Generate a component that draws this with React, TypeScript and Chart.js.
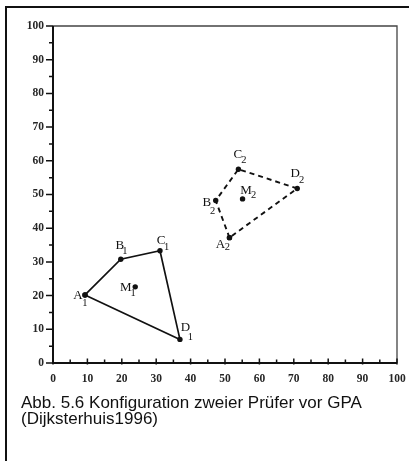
import React, { useEffect, useRef } from 'react';
import { Chart, registerables } from 'chart.js';

Chart.register(...registerables);

// ---- data ----
const cornerLetters = ['A', 'B', 'C', 'D'];
const panel1X = [9.3, 19.7, 31.1, 36.9];
const panel1Y = [20.2, 30.8, 33.3, 7.0];
const panel2X = [51.3, 47.3, 53.9, 71.0];
const panel2Y = [37.2, 48.2, 57.5, 51.8];
const centroidLetter = 'M';
const centroidX = [23.9, 55.1];
const centroidY = [22.6, 48.7];
const panelSubscripts = ['1', '2'];
const axisMin = 0;
const axisMax = 100;
const axisStep = 5;
const captionLines = [
  'Abb. 5.6 Konfiguration zweier Prüfer vor GPA',
  '(Dijksterhuis1996)',
];

// ---- label placement (style: px offsets from point: letter dx, dy, subscript dx, dy) ----
const cornerOffsets = [
  [
    [-7, 1, 0, 8],
    [-1, -14, 4, -7.5],
    [1, -10, 6.7, -4],
    [5.5, -12, 10.5, -2],
  ],
  [
    [-9, 6.5, -2, 10],
    [-9, 2, -3, 10.5],
    [-0.5, -15, 5.5, -9],
    [-2, -15, 4.5, -8.5],
  ],
];
const centroidOffsets = [
  [-9.5, 1, -2, 6],
  [3.5, -8.5, 11, -4],
];

const SERIF = "'Liberation Serif', 'DejaVu Serif', serif";

function closed(xs: number[], ys: number[]) {
  const pts = xs.map((x, i) => ({ x, y: ys[i] }));
  return [...pts, pts[0]];
}

const overlayPlugin = {
  id: 'overlay',
  afterDraw(chart: any) {
    const { ctx, chartArea: a, scales } = chart;
    const xs = scales.x;
    const ys = scales.y;
    ctx.save();
    // frame: top and right
    ctx.strokeStyle = '#444';
    ctx.lineWidth = 1.3;
    ctx.beginPath();
    ctx.moveTo(a.left, a.top);
    ctx.lineTo(a.right, a.top);
    ctx.lineTo(a.right, a.bottom);
    ctx.stroke();
    // axes
    ctx.strokeStyle = '#111';
    ctx.lineWidth = 2;
    ctx.beginPath();
    ctx.moveTo(a.left, a.top);
    ctx.lineTo(a.left, a.bottom);
    ctx.lineTo(a.right, a.bottom);
    ctx.stroke();
    // tick marks
    ctx.lineWidth = 1.5;
    ctx.beginPath();
    xs.ticks.forEach((t: any) => {
      const major = t.value % 10 === 0;
      const px = xs.getPixelForValue(t.value);
      ctx.moveTo(px, a.bottom + (major ? 1.5 : 0));
      ctx.lineTo(px, a.bottom - (major ? 4.5 : 3.5));
    });
    ys.ticks.forEach((t: any) => {
      const major = t.value % 10 === 0;
      const py = ys.getPixelForValue(t.value);
      ctx.moveTo(a.left, py);
      ctx.lineTo(a.left - (major ? 7 : 4), py);
    });
    ctx.stroke();

    // point labels
    ctx.fillStyle = '#111';
    ctx.textAlign = 'center';
    ctx.textBaseline = 'middle';
    const drawLabel = (vx: number, vy: number, letter: string, sub: string, off: number[]) => {
      const px = xs.getPixelForValue(vx);
      const py = ys.getPixelForValue(vy);
      ctx.font = `13px ${SERIF}`;
      ctx.fillText(letter, px + off[0], py + off[1]);
      ctx.font = `10.5px ${SERIF}`;
      ctx.fillText(sub, px + off[2], py + off[3]);
    };
    const panels = [
      [panel1X, panel1Y],
      [panel2X, panel2Y],
    ];
    panels.forEach(([px, py], p) => {
      cornerLetters.forEach((L, i) => {
        drawLabel(px[i], py[i], L, panelSubscripts[p], cornerOffsets[p][i]);
      });
      drawLabel(centroidX[p], centroidY[p], centroidLetter, panelSubscripts[p], centroidOffsets[p]);
    });
    ctx.restore();
  },
};

export default function App() {
  const ref = useRef<HTMLCanvasElement | null>(null);

  useEffect(() => {
    if (!ref.current) return;
    const tickFont = { family: SERIF, size: 11.5, weight: 'bold' as const };
    const chart = new Chart(ref.current, {
      type: 'scatter',
      data: {
        datasets: [
          {
            data: closed(panel1X, panel1Y),
            showLine: true,
            borderColor: '#111',
            borderWidth: 1.7,
            backgroundColor: '#111',
            pointRadius: 2.7,
            pointBorderWidth: 0,
          },
          {
            data: closed(panel2X, panel2Y),
            showLine: true,
            borderColor: '#111',
            borderWidth: 1.9,
            borderDash: [5, 4],
            backgroundColor: '#111',
            pointRadius: 2.7,
            pointBorderWidth: 0,
          },
          {
            data: centroidX.map((x, i) => ({ x, y: centroidY[i] })),
            showLine: false,
            backgroundColor: '#111',
            pointRadius: 2.7,
            pointBorderWidth: 0,
          },
        ],
      },
      options: {
        animation: false,
        responsive: false,
        events: [],
        layout: { padding: { left: 0, right: 12, top: 26, bottom: 0 } },
        plugins: { legend: { display: false }, tooltip: { enabled: false } },
        scales: {
          x: {
            type: 'linear',
            min: axisMin,
            max: axisMax,
            grid: { display: false, drawTicks: false },
            border: { display: false },
            ticks: {
              stepSize: axisStep,
              autoSkip: false,
              maxRotation: 0,
              minRotation: 0,
              padding: 9,
              color: '#262626',
              font: tickFont,
              callback: (v: any) => (Number(v) % 10 === 0 ? String(v) : ''),
            },
            afterFit: (s: any) => {
              s.height = 32;
              s.paddingLeft = 0;
              s.paddingRight = 0;
            },
          },
          y: {
            type: 'linear',
            min: axisMin,
            max: axisMax,
            grid: { display: false, drawTicks: false },
            border: { display: false },
            ticks: {
              stepSize: axisStep,
              autoSkip: false,
              padding: 9,
              color: '#262626',
              font: tickFont,
              callback: (v: any) => (Number(v) % 10 === 0 ? String(v) : ''),
            },
            afterFit: (s: any) => {
              s.width = 53;
              s.paddingTop = 0;
              s.paddingBottom = 0;
            },
          },
        },
      },
      plugins: [overlayPlugin],
    });
    return () => chart.destroy();
  }, []);

  return (
    <div
      style={{
        position: 'fixed',
        left: 0,
        top: 0,
        width: 409,
        height: 461,
        background: '#fff',
        overflow: 'hidden',
      }}
    >
      <div
        style={{
          position: 'absolute',
          left: 5,
          top: 6,
          width: 600,
          height: 600,
          borderLeft: '2px solid #111',
          borderTop: '2px solid #111',
        }}
      />
      <canvas
        ref={ref}
        width={409}
        height={395}
        style={{ position: 'absolute', left: 0, top: 0, width: 409, height: 395 }}
      />
      <div
        style={{
          position: 'absolute',
          left: 21,
          top: 395,
          fontFamily: "'Liberation Sans', Arial, sans-serif",
          fontSize: 17,
          lineHeight: '15.6px',
          color: '#111',
          whiteSpace: 'nowrap',
        }}
      >
        {captionLines.map((l, i) => (
          <div key={i}>{l}</div>
        ))}
      </div>
    </div>
  );
}
